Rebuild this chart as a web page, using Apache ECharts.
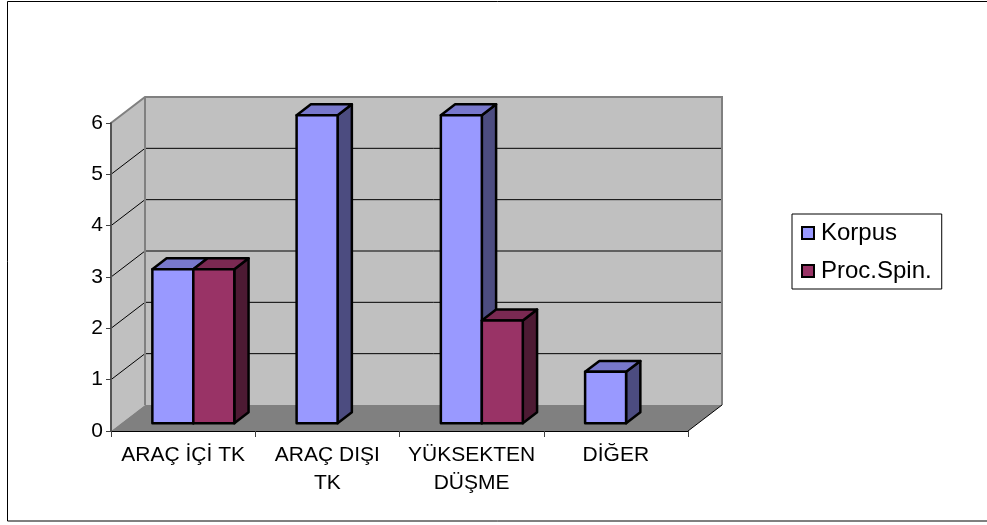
<!DOCTYPE html>
<html>
<head>
<meta charset="utf-8">
<script src="https://cdn.jsdelivr.net/npm/echarts@6/dist/echarts.min.js"></script>
<style>
  html, body { margin: 0; padding: 0; background: #fff; }
  #chart { width: 987px; height: 525px; }
</style>
</head>
<body>
<div id="chart"></div>
<script>
// Categories (line breaks as the labels wrap under each column)
const categories = ['ARAÇ İÇİ TK', 'ARAÇ DIŞI\nTK', 'YÜKSEKTEN\nDÜŞME', 'DİĞER'];
const seriesNames = ['Korpus', 'Proc.Spin.'];
const korpus = [3, 6, 6, 1];
const procSpin = [3, 0, 2, 0];
const yMin = 0, yMax = 6, yInterval = 1;

// 3D look: offset of the back wall relative to the front plane
const DEPTH = { dx: 34, dy: -26 };
const BAR_POS = 0.3;     // depth of the column front faces
const BAR_THICK = 0.42;  // column thickness, as a share of DEPTH
const BAR_FRAC = 0.284;  // column width, as a share of one category

const FONT = 'Liberation Sans, Arial, sans-serif';

const palette = {
  korpus: { front: '#9999ff', top: '#7878cc', side: '#4c4c80' },
  proc:   { front: '#993366', top: '#7a2952', side: '#4d1a33' }
};

function columnRenderer(slot, colors) {
  return function (params, api) {
    const v = api.value(1);
    if (!v) return null;
    const c = api.value(0);
    const base = api.coord([c, 0]);
    const top = api.coord([c, v]);
    const band = api.size([1, 0])[0];
    const w = band * BAR_FRAC;
    const ox = DEPTH.dx * BAR_POS, oy = DEPTH.dy * BAR_POS;
    const tx = DEPTH.dx * BAR_THICK, ty = DEPTH.dy * BAR_THICK;
    const x0 = base[0] + slot * w + ox, x1 = x0 + w;
    const yb = base[1] + oy, yt = top[1] + oy;
    const edge = { stroke: '#000', lineWidth: 2.5, lineJoin: 'round' };
    return {
      type: 'group',
      children: [
        { type: 'polygon', shape: { points: [[x1, yb], [x1 + tx, yb + ty], [x1 + tx, yt + ty], [x1, yt]] },
          style: Object.assign({ fill: colors.side }, edge) },
        { type: 'polygon', shape: { points: [[x0, yt], [x1, yt], [x1 + tx, yt + ty], [x0 + tx, yt + ty]] },
          style: Object.assign({ fill: colors.top }, edge) },
        { type: 'polygon', shape: { points: [[x0, yb], [x1, yb], [x1, yt], [x0, yt]] },
          style: Object.assign({ fill: colors.front }, edge) }
      ]
    };
  };
}

// Side wall, back wall, floor and gridlines of the 3D box
function wallsRenderer(params, api) {
  const cs = params.coordSys;
  const xl = cs.x, xr = cs.x + cs.width;
  const dx = DEPTH.dx, dy = DEPTH.dy;
  const y0 = api.coord([0, yMin])[1];
  const yTop = api.coord([0, yMax])[1];
  const children = [];
  // back wall
  children.push({ type: 'polygon', shape: { points: [[xl + dx, yTop + dy], [xr + dx, yTop + dy], [xr + dx, y0 + dy], [xl + dx, y0 + dy]] },
    style: { fill: '#c0c0c0' } });
  // side wall
  children.push({ type: 'polygon', shape: { points: [[xl, yTop], [xl + dx, yTop + dy], [xl + dx, y0 + dy], [xl, y0]] },
    style: { fill: '#c0c0c0' } });
  // gridlines
  for (let v = yMin + yInterval; v < yMax; v += yInterval) {
    const y = api.coord([0, v])[1];
    children.push({ type: 'polyline', shape: { points: [[xl, y], [xl + dx, y + dy], [xr + dx, y + dy]] },
      style: { stroke: '#000', lineWidth: 1, fill: null } });
  }
  // floor
  children.push({ type: 'polygon', shape: { points: [[xl, y0], [xr, y0], [xr + dx, y0 + dy], [xl + dx, y0 + dy]] },
    style: { fill: '#808080' } });
  // wall borders
  children.push({ type: 'polyline', shape: { points: [[xl, yTop], [xl + dx, yTop + dy], [xr + dx, yTop + dy], [xr + dx, y0 + dy]] },
    style: { stroke: '#808080', lineWidth: 2, fill: null } });
  children.push({ type: 'line', shape: { x1: xl + dx, y1: yTop + dy, x2: xl + dx, y2: y0 + dy },
    style: { stroke: '#808080', lineWidth: 2 } });
  // floor right edge
  children.push({ type: 'line', shape: { x1: xr, y1: y0, x2: xr + dx, y2: y0 + dy },
    style: { stroke: '#000', lineWidth: 1 } });
  return { type: 'group', children: children };
}

const chart = echarts.init(document.getElementById('chart'), null, { renderer: 'canvas' });

chart.setOption({
  animation: false,
  backgroundColor: '#ffffff',
  textStyle: { fontFamily: FONT },
  graphic: [{
    type: 'rect', silent: true, z: 0,
    shape: { x: 7.5, y: 1.5, width: 990, height: 519.5 },
    style: { fill: null, stroke: '#000', lineWidth: 1 }
  }],
  grid: { left: 111, right: 299, top: 123, bottom: 94, containLabel: false },
  xAxis: {
    type: 'category',
    data: categories,
    boundaryGap: true,
    z: 5,
    axisLine: { show: true, lineStyle: { color: '#000', width: 1 } },
    axisTick: { show: true, length: 6, alignWithLabel: false, lineStyle: { color: '#404040' } },
    axisLabel: { interval: 0, color: '#000', fontSize: 21, lineHeight: 28, margin: 10, fontFamily: FONT },
    splitLine: { show: false }
  },
  yAxis: {
    type: 'value',
    min: yMin, max: yMax, interval: yInterval,
    z: 5,
    axisLine: { show: true, lineStyle: { color: '#555', width: 2 } },
    axisTick: { show: true, length: 5, lineStyle: { color: '#404040' } },
    axisLabel: { color: '#000', fontSize: 21, margin: 8, fontFamily: FONT },
    splitLine: { show: false }
  },
  legend: {
    orient: 'vertical',
    left: 792, top: 214,
    padding: [5, 10, 4, 9],
    itemGap: 10,
    itemWidth: 12, itemHeight: 12,
    borderColor: '#000', borderWidth: 1,
    icon: 'rect',
    data: seriesNames,
    textStyle: { color: '#000', fontSize: 24, lineHeight: 28, fontFamily: FONT, padding: [0, 0, 0, 2] },
    itemStyle: { borderColor: '#000', borderWidth: 2 }
  },
  series: [
    {
      type: 'custom', name: 'walls', silent: true, z: 1,
      data: [[0, 0]],
      encode: { x: 0, y: 1 },
      renderItem: wallsRenderer,
      legendHoverLink: false
    },
    {
      type: 'custom', name: seriesNames[0], z: 3,
      data: korpus.map((v, i) => [i, v]),
      encode: { x: 0, y: 1 },
      itemStyle: { color: palette.korpus.front },
      renderItem: columnRenderer(-1, palette.korpus)
    },
    {
      type: 'custom', name: seriesNames[1], z: 4,
      data: procSpin.map((v, i) => [i, v]),
      encode: { x: 0, y: 1 },
      itemStyle: { color: palette.proc.front },
      renderItem: columnRenderer(0, palette.proc)
    }
  ]
});
</script>
</body>
</html>
